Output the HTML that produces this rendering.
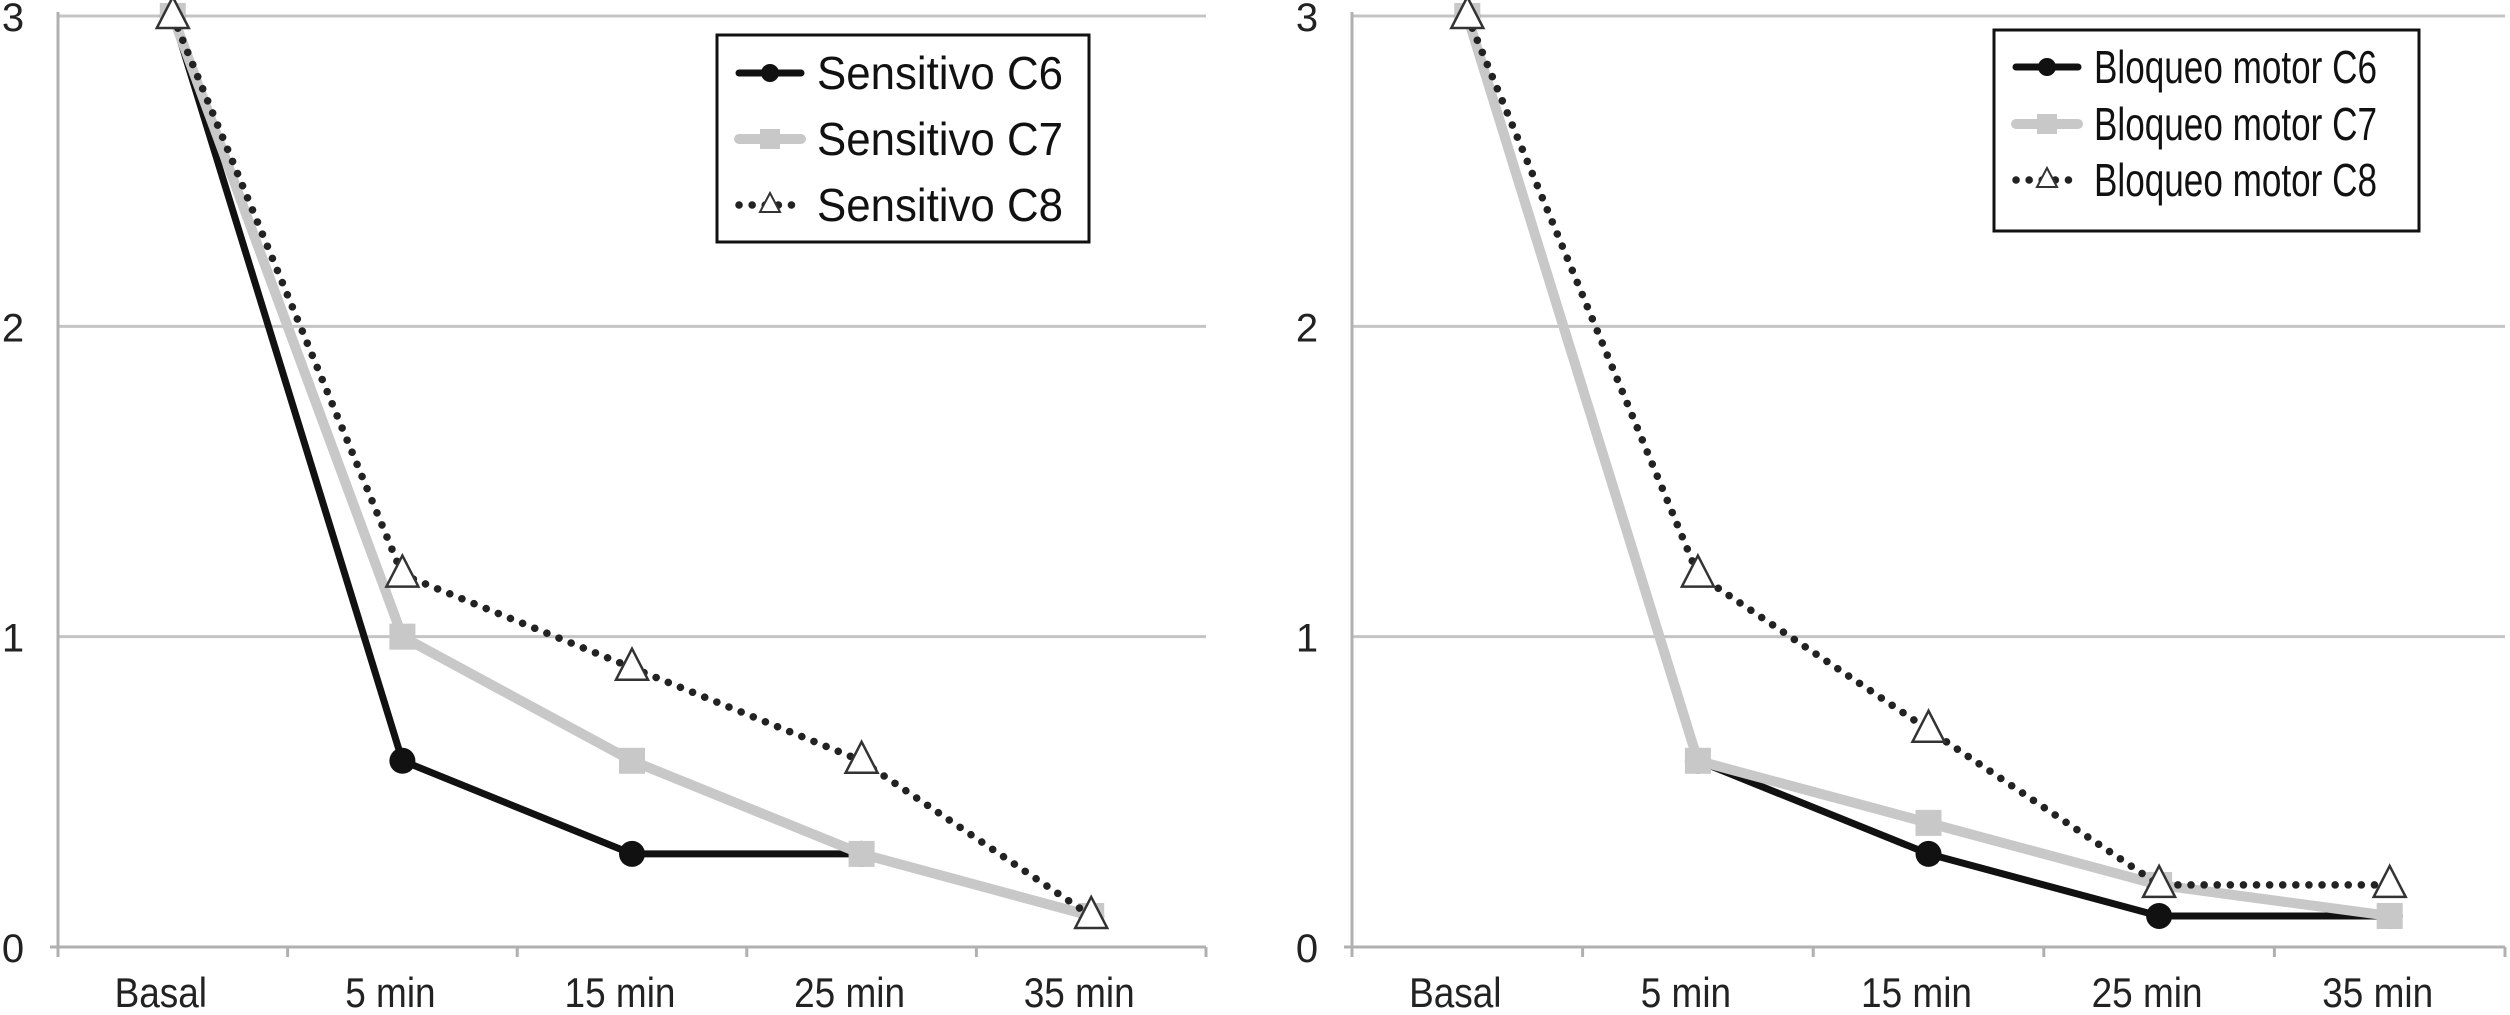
<!DOCTYPE html>
<html><head><meta charset="utf-8"><style>
body{margin:0;background:#fff}
svg{display:block;font-family:"Liberation Sans",sans-serif}
</style></head><body>
<svg id="c" width="2510" height="1015"></svg>
<script>
const categories=["Basal","5 min","15 min","25 min","35 min"];
const yTicks=[0,1,2,3];
const leftC6=[3,0.6,0.3,0.3,0.1];
const leftC7=[3,1,0.6,0.3,0.1];
const leftC8=[3,1.2,0.9,0.6,0.1];
const rightC6=[3,0.6,0.3,0.1,0.1];
const rightC7=[3,0.6,0.4,0.2,0.1];
const rightC8=[3,1.2,0.7,0.2,0.2];
const leftNames=["Sensitivo C6","Sensitivo C7","Sensitivo C8"];
const rightNames=["Bloqueo motor C6","Bloqueo motor C7","Bloqueo motor C8"];

const NS="http://www.w3.org/2000/svg";
const svg=document.getElementById('c');
function mk(t,a,p){const e=document.createElementNS(NS,t);for(const k in a)e.setAttribute(k,a[k]);(p||svg).appendChild(e);return e;}
function condense(t,f){const w=t.getComputedTextLength();t.setAttribute('textLength',w*f);t.setAttribute('lengthAdjust','spacingAndGlyphs');}

function panel(x0,x1,series,names,leg,label){
  const g=mk('g',{});
  
  
  const yT=16,yB=947;
  const ys=v=>yB-(v/3)*(yB-yT);
  const step=(x1-x0)/categories.length;
  const xs=i=>x0+step*(i+0.5);
  yTicks.forEach(t=>{
    if(t>0){const l=mk('line',{x1:x0,x2:x1,y1:ys(t),y2:ys(t),stroke:'#c4c4c4','stroke-width':3},g);
    }
    const tx=mk('text',{x:x0-45,y:ys(t)+15,'font-size':40,fill:'#222','text-anchor':'middle'},g);
    tx.textContent=t;
    
  });
  const ax=mk('line',{x1:x0,x2:x0,y1:yT-4,y2:yB,stroke:'#b0b0b0','stroke-width':3},g);
  
  const xa=mk('line',{x1:x0-8,x2:x1,y1:yB,y2:yB,stroke:'#b0b0b0','stroke-width':3},g);
  
  for(let i=0;i<=categories.length;i++){
    mk('line',{x1:x0+step*i,x2:x0+step*i,y1:yB,y2:yB+10,stroke:'#b0b0b0','stroke-width':3},g);
  }
  categories.forEach((c,i)=>{
    const tx=mk('text',{x:xs(i)-12,y:1007,'font-size':42,fill:'#222','text-anchor':'middle'},g);
    tx.textContent=c;
    condense(tx,0.88);
    
  });
  const styles=[
    {stroke:'#111',w:7,dash:null},
    {stroke:'#c8c8c8',w:10,dash:null},
    {stroke:'#222',w:7.5,dash:'0.1 13'}];
  [0,1,2].forEach(si=>{
    const d=series[si],s=styles[si];
    const pts=d.map((v,i)=>xs(i)+','+ys(v)).join(' ');
    const pl=mk('polyline',{points:pts,fill:'none',stroke:s.stroke,'stroke-width':s.w,'stroke-linecap':'round','stroke-linejoin':'round'},g);
    if(s.dash)pl.setAttribute('stroke-dasharray',s.dash);
    
    d.forEach((v,i)=>{
      const x=xs(i),y=ys(v);let m;
      if(si===0)m=mk('circle',{cx:x,cy:y,r:13,fill:'#111'},g);
      else if(si===1)m=mk('rect',{x:x-13,y:y-13,width:26,height:26,fill:'#c8c8c8'},g);
      else m=mk('polygon',{points:`${x},${y-19} ${x-16},${y+12} ${x+16},${y+12}`,fill:'#fff',stroke:'#333','stroke-width':2.5},g);
      
    });
  });
  const lg=mk('g',{},g);
  
  mk('rect',{x:leg.x,y:leg.y,width:leg.w,height:leg.h,fill:'#fff',stroke:'#111','stroke-width':3},lg);
  names.forEach((n,i)=>{
    const y=leg.rows[i],lx=leg.x+22,s=styles[i];
    const ln=mk('line',{x1:lx,x2:lx+62,y1:y,y2:y,stroke:s.stroke,'stroke-width':s.w,'stroke-linecap':'round'},lg);
    if(s.dash)ln.setAttribute('stroke-dasharray',s.dash);
    const cx=lx+31;
    if(i===0)mk('circle',{cx:cx,cy:y,r:9,fill:'#111'},lg);
    else if(i===1)mk('rect',{x:cx-10,y:y-10,width:20,height:20,fill:'#c8c8c8'},lg);
    else mk('polygon',{points:`${cx},${y-12} ${cx-10},${y+7} ${cx+10},${y+7}`,fill:'#fff',stroke:'#333','stroke-width':2},lg);
    const t=mk('text',{x:lx+78,y:y+16,'font-size':46,fill:'#111'},lg);
    t.textContent=n;
    t.setAttribute('textLength',leg.tl);t.setAttribute('lengthAdjust','spacingAndGlyphs');
    
  });
}
panel(58,1206,[leftC6,leftC7,leftC8],leftNames,{x:717,y:35,w:372,h:207,rows:[73,139,205],tl:246},'sensitivo');
panel(1352,2505,[rightC6,rightC7,rightC8],rightNames,{x:1994,y:30,w:425,h:201,rows:[67,124,180],tl:283},'motor');
</script>
</body></html>
